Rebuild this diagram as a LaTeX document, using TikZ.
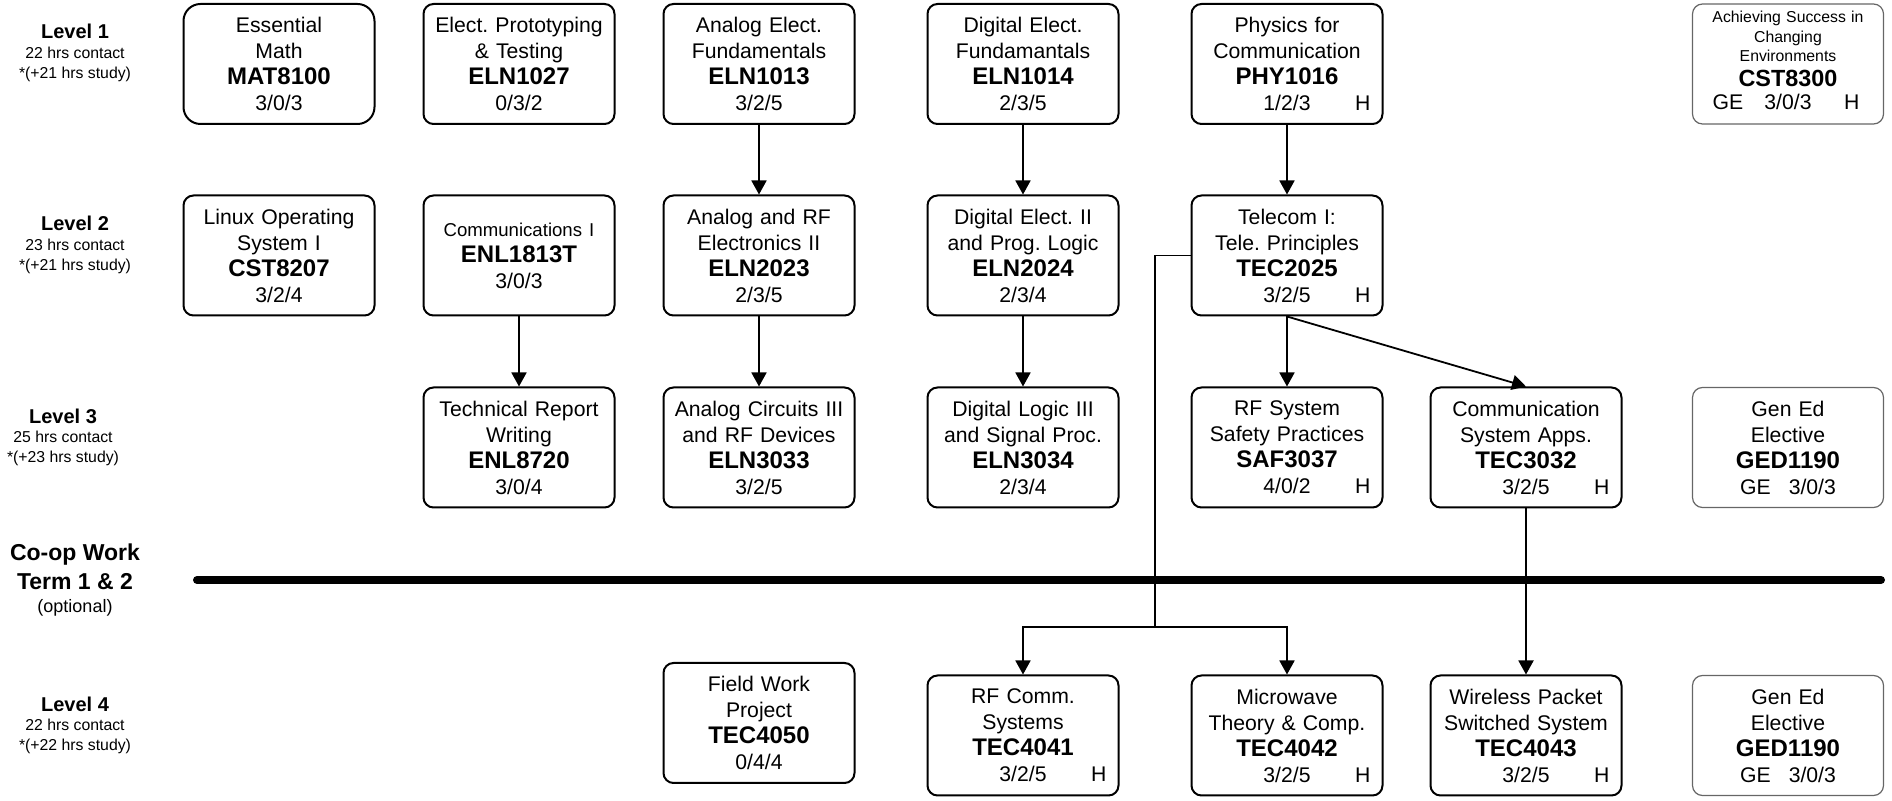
\documentclass[tikz,border=0pt]{standalone}
\usepackage{fontspec}
\setmainfont{Liberation Sans}
\usetikzlibrary{arrows.meta}

\tikzset{
  course/.style={draw, line width=1pt, rounded corners=5pt, minimum width=95.5pt, minimum height=60pt, text width=95.5pt, inner sep=0pt, align=center, font=\fontsize{10.6}{13}\selectfont\frenchspacing},
  gened/.style={course, draw=black!60, line width=0.6pt},
  termlabel/.style={align=center, inner sep=0pt, font=\fontsize{7.9}{9.8}\selectfont},
  prereq/.style={-{Triangle[width=7.5pt,length=7pt]}, line width=0.9pt},
}
\newcommand{\crs}[1]{{\fontsize{12}{13}\selectfont\bfseries #1}}
\newcommand{\lvl}[1]{{\fontsize{10}{12}\selectfont\bfseries #1}}
\newcommand{\hrow}[1]{\makebox[95.5pt]{#1}\llap{H\hspace*{6pt}}}

\begin{document}
\begin{tikzpicture}[x=0.5pt, y=-0.5pt]
    \useasboundingbox (0,0) rectangle (1892,801);

    % Level labels
    \node[termlabel] (lev1) at (75,53) {\lvl{Level 1}\\22 hrs contact\\*(+21 hrs study)};
    \node[termlabel] (lev2) at (75,245) {\lvl{Level 2}\\23 hrs contact\\*(+21 hrs study)};
    \node[termlabel] (lev3) at (63,437) {\lvl{Level 3}\\25 hrs contact\\*(+23 hrs study)};
    \node[termlabel, font=\fontsize{11.5}{14.5}\selectfont] (coop) at (75,580) {\textbf{Co-op Work}\\\textbf{Term 1 \& 2}\\[-3pt]{\fontsize{9}{11}\selectfont (optional)}};
    \node[termlabel] (lev4) at (75,725) {\lvl{Level 4}\\22 hrs contact\\*(+22 hrs study)};

    % Level 1
    \node[course, rounded corners=8.5pt] (mat8100) at (279,64) {Essential\\Math\\\crs{MAT8100}\\3/0/3};
    \node[course] (eln1027) at (519,64) {Elect. Prototyping\\\& Testing\\\crs{ELN1027}\\0/3/2};
    \node[course] (eln1013) at (759,64) {Analog Elect.\\Fundamentals\\\crs{ELN1013}\\3/2/5};
    \node[course] (eln1014) at (1023,64) {Digital Elect.\\Fundamantals\\\crs{ELN1014}\\2/3/5};
    \node[course] (phy1016) at (1287,64) {Physics for\\Communication\\\crs{PHY1016}\\\hrow{1/2/3}};
    \node[gened, font=\fontsize{7.9}{9.75}\selectfont] (cst8300) at (1788,64) {Achieving Success in\\Changing\\Environments\\[2.4pt]{\fontsize{11.7}{13}\selectfont\bfseries CST8300}\\[1.9pt]{\fontsize{10.6}{13}\selectfont\leavevmode\rlap{\hspace*{10pt}GE}\makebox[95.5pt]{3/0/3}\llap{H\hspace*{12pt}}}\par\nointerlineskip\hbox{\rule{0pt}{3.5pt}}};

    % Level 2
    \node[course] (cst8207) at (279,255.5) {Linux Operating\\System I\\\crs{CST8207}\\3/2/4};
    \node[course] (enl1813t) at (519,255.5) {{\fontsize{9.3}{13}\selectfont Communications I}\\\crs{ENL1813T}\\3/0/3};
    \node[course] (eln2023) at (759,255.5) {Analog and RF\\Electronics II\\\crs{ELN2023}\\2/3/5};
    \node[course] (eln2024) at (1023,255.5) {Digital Elect. II\\and Prog. Logic\\\crs{ELN2024}\\2/3/4};
    \node[course] (tec2025) at (1287,255.5) {Telecom I:\\Tele. Principles\\\crs{TEC2025}\\\hrow{3/2/5}};

    % Level 3
    \node[course] (enl8720) at (519,447.5) {Technical Report\\Writing\\\crs{ENL8720}\\3/0/4};
    \node[course] (eln3033) at (759,447.5) {Analog Circuits III\\and RF Devices\\\crs{ELN3033}\\3/2/5};
    \node[course] (eln3034) at (1023,447.5) {Digital Logic III\\and Signal Proc.\\\crs{ELN3034}\\2/3/4};
    \node[course] (saf3037) at (1287,447.5) {RF System\\Safety Practices\\\crs{SAF3037}\\\hrow{4/0/2}};
    \node[course] (tec3032) at (1526,447.5) {Communication\\System Apps.\\\crs{TEC3032}\\\hrow{3/2/5}};
    \node[gened] (ged1190a) at (1788,447.5) {Gen Ed\\Elective\\\crs{GED1190}\\GE\hspace{9pt}3/0/3};

    % Co-op work term bar
    \draw[line width=4pt, line cap=round] (197,580) -- (1881,580);

    % Level 4
    \node[course] (tec4050) at (759,723) {Field Work\\Project\\\crs{TEC4050}\\0/4/4};
    \node[course] (tec4041) at (1023,735.5) {RF Comm.\\Systems\\\crs{TEC4041}\\\hrow{3/2/5}};
    \node[course] (tec4042) at (1287,735.5) {Microwave\\Theory \& Comp.\\\crs{TEC4042}\\\hrow{3/2/5}};
    \node[course] (tec4043) at (1526,735.5) {Wireless Packet\\Switched System\\\crs{TEC4043}\\\hrow{3/2/5}};
    \node[gened] (ged1190b) at (1788,735.5) {Gen Ed\\Elective\\\crs{GED1190}\\GE\hspace{9pt}3/0/3};

    % Prerequisites
    \draw[prereq] (eln1013) -- (eln2023);
    \draw[prereq] (eln1014) -- (eln2024);
    \draw[prereq] (phy1016) -- (tec2025);
    \draw[prereq] (enl1813t) -- (enl8720);
    \draw[prereq] (eln2023) -- (eln3033);
    \draw[prereq] (eln2024) -- (eln3034);
    \draw[prereq] (tec2025) -- (saf3037);
    \draw[prereq] (tec2025.south) -- (tec3032.north);
    \draw[prereq] (tec3032) -- (tec4043);
    \coordinate (split) at (1155,627);
    \draw[line width=0.9pt] (tec2025.west) -| (split);
    \draw[prereq] (split) -| (tec4041);
    \draw[prereq] (split) -| (tec4042);
\end{tikzpicture}
\end{document}
